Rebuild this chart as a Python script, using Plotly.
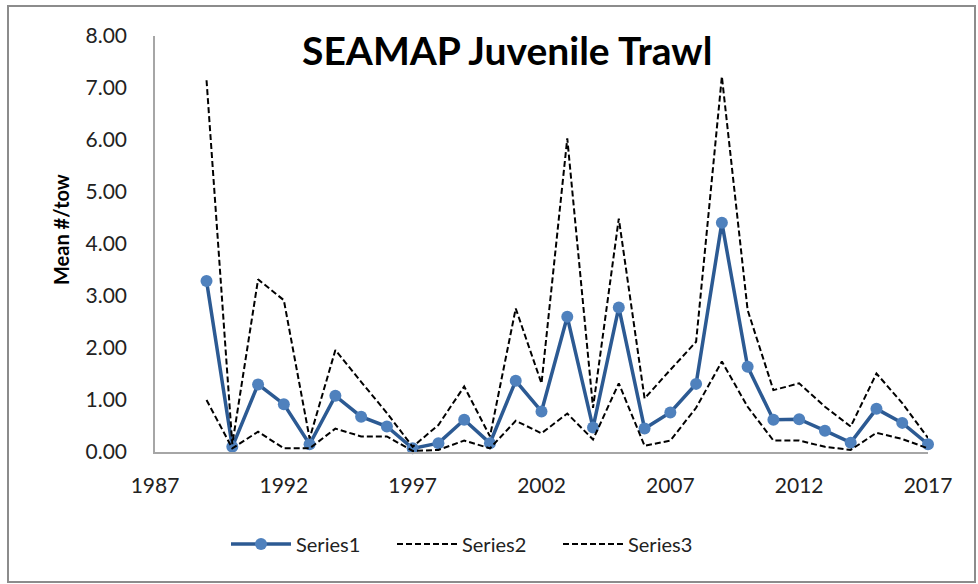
import plotly.graph_objects as go

years = list(range(1989, 2018))
series1 = [3.29, 0.10, 1.30, 0.92, 0.15, 1.08, 0.68, 0.49, 0.07, 0.17, 0.62, 0.17, 1.37, 0.78, 2.60,
           0.47, 2.78, 0.45, 0.76, 1.31, 4.41, 1.64, 0.62, 0.63, 0.41, 0.18, 0.83, 0.56, 0.15]
series2 = [7.15, 0.15, 3.32, 2.92, 0.26, 1.96, 1.35, 0.75, 0.10, 0.52, 1.26, 0.30, 2.76, 1.32, 6.03,
           0.85, 4.49, 1.03, 1.58, 2.12, 7.22, 2.73, 1.19, 1.32, 0.87, 0.49, 1.51, 0.94, 0.27]
series3 = [1.00, 0.07, 0.39, 0.07, 0.07, 0.45, 0.30, 0.30, 0.02, 0.04, 0.22, 0.07, 0.60, 0.36, 0.74,
           0.24, 1.32, 0.12, 0.22, 0.85, 1.74, 0.87, 0.22, 0.22, 0.10, 0.04, 0.37, 0.25, 0.07]
x_ticks = [1987, 1992, 1997, 2002, 2007, 2012, 2017]
y_ticks = [0, 1, 2, 3, 4, 5, 6, 7, 8]

FONT = "Lato"
fig = go.Figure()
fig.add_trace(go.Scatter(x=years, y=series1, name="Series1", mode="lines+markers",
                         line=dict(color="#2C5A93", width=3.5),
                         marker=dict(color="#4F81BD", size=12, line=dict(width=0)),
                         cliponaxis=False))
fig.add_trace(go.Scatter(x=years, y=series2, name="Series2", mode="lines",
                         line=dict(color="black", width=2, dash="6px,3px"), cliponaxis=False))
fig.add_trace(go.Scatter(x=years, y=series3, name="Series3", mode="lines",
                         line=dict(color="black", width=2, dash="6px,3px"), cliponaxis=False))

L, R, T, B = 155, 50, 36, 132
W, H = 978, 584
pw, ph = W - L - R, H - T - B

def px_x(x):
    return (x - L) / pw

def px_y(y):
    return (H - B - y) / ph

fig.update_layout(
    width=W, height=H,
    margin=dict(l=L, r=R, t=T, b=B),
    paper_bgcolor="white", plot_bgcolor="white",
    font=dict(family=FONT, color="#222222"),
    showlegend=True,
    legend=dict(orientation="h", x=px_x(226), xanchor="left", y=px_y(544), yanchor="middle",
                font=dict(size=20, family=FONT, color="#222222"), itemwidth=60,
                entrywidth=91, entrywidthmode="pixels",
                traceorder="normal", bgcolor="rgba(0,0,0,0)"),
    xaxis=dict(range=[1987, 2017], tickvals=x_ticks, ticktext=[str(v) for v in x_ticks],
               showgrid=False, zeroline=False, showline=True, linecolor="#A6A6A6", linewidth=1.5,
               ticks="", tickfont=dict(size=21, family=FONT, color="#222222"),
               ticklabelstandoff=14),
    yaxis=dict(range=[0, 8], tickvals=y_ticks, tickformat=".2f",
               showgrid=False, zeroline=False, showline=True, linecolor="#A6A6A6", linewidth=1.5,
               ticks="", tickfont=dict(size=21, family=FONT, color="#222222"),
               ticklabelstandoff=22),
)

fig.add_annotation(text="<b>SEAMAP Juvenile Trawl</b>", xref="paper", yref="paper",
                   x=px_x(507), y=px_y(50), xanchor="center", yanchor="middle",
                   showarrow=False, font=dict(size=39, family=FONT, color="black"))

fig.add_annotation(text="<b>Mean #/tow</b>", xref="paper", yref="paper", textangle=-90,
                   x=px_x(61), y=px_y(230), xanchor="center", yanchor="middle",
                   showarrow=False, font=dict(size=20, family=FONT, color="black"))

fig.add_shape(type="rect", xref="paper", yref="paper",
              x0=px_x(8), x1=px_x(975), y0=px_y(582), y1=px_y(6),
              line=dict(color="#8C8C8C", width=2), fillcolor="rgba(0,0,0,0)", layer="below")

fig.write_html("out.html", config={"displayModeBar": False},
               post_script="document.body.style.margin='0';")
